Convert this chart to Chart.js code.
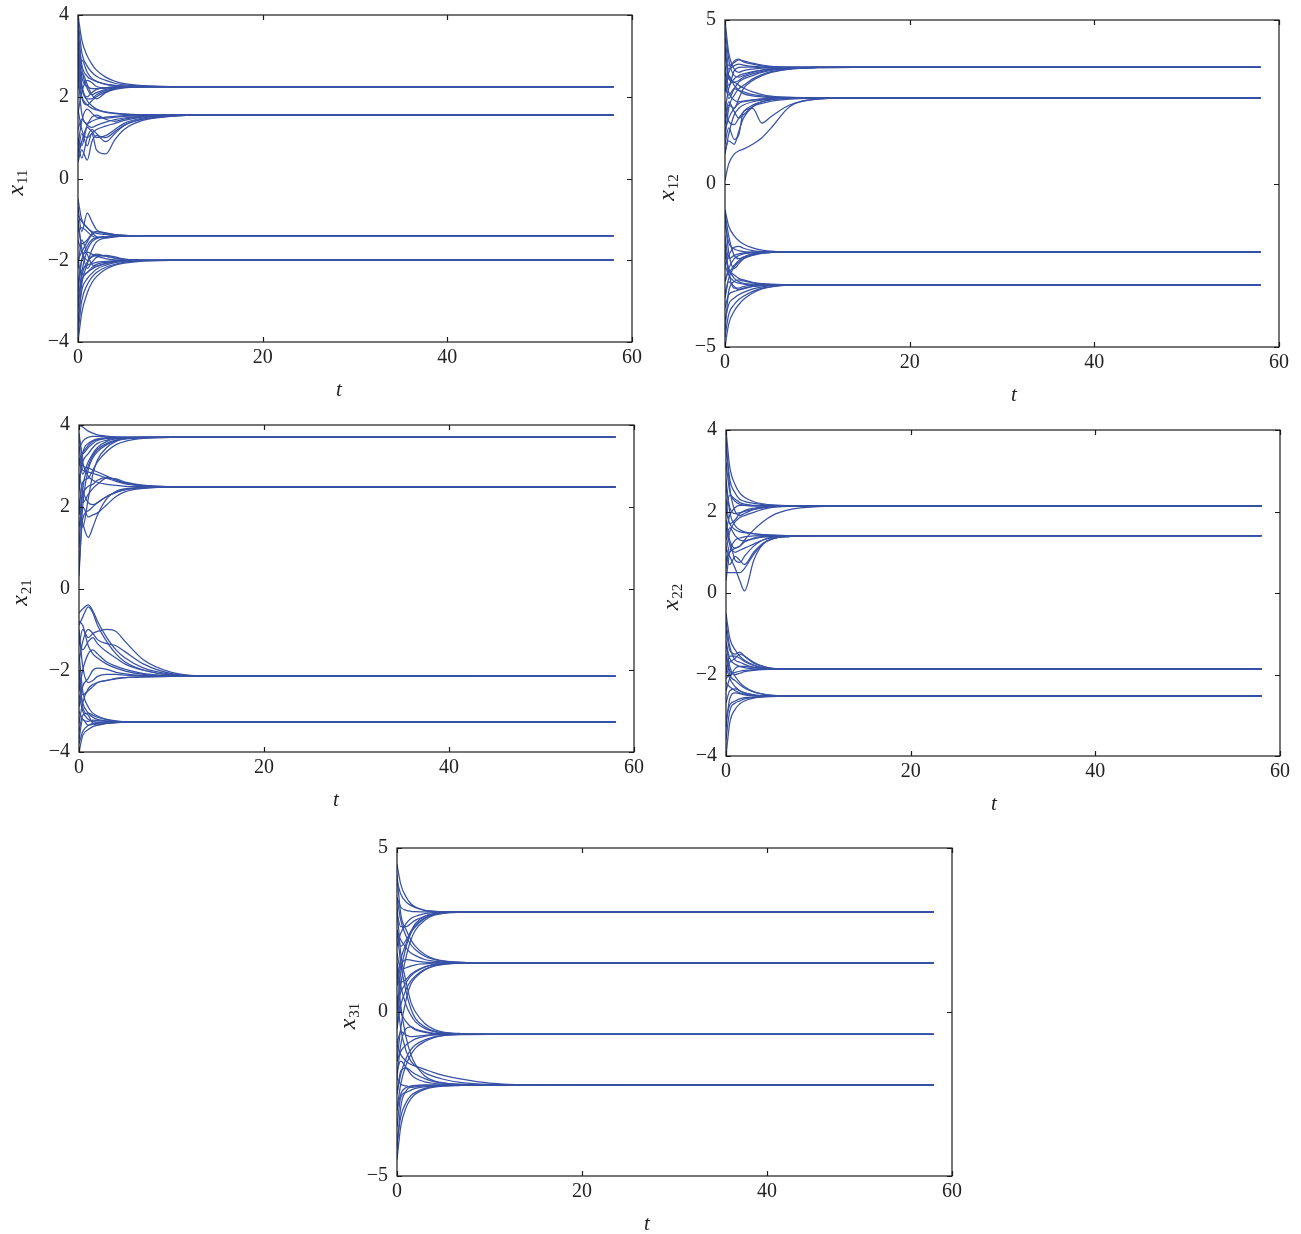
<!DOCTYPE html>
<html>
<head>
<meta charset="utf-8">
<script src="https://cdn.jsdelivr.net/npm/chart.js@4.4.1/dist/chart.umd.min.js"></script>
<style>
  html, body { margin: 0; padding: 0; background: #fff; }
  body { position: relative; width: 1301px; height: 1234px; overflow: hidden; }
  canvas { position: absolute; }
</style>
</head>
<body>
<canvas id="c11"></canvas>
<canvas id="c12"></canvas>
<canvas id="c21"></canvas>
<canvas id="c22"></canvas>
<canvas id="c31"></canvas>
<script>
// sample times shared by every trajectory
const times = [0, 0.4, 1, 1.5, 2, 3, 4, 5, 7, 10, 14, 58];
const xTicks = [0, 20, 40, 60];

const x11Curves = [
    [4.0, 3.4, 3.0, 2.8, 2.65, 2.48, 2.38, 2.32, 2.27, 2.25, 2.25, 2.25],
    [3.9, 3.1, 2.75, 2.6, 2.5, 2.4, 2.33, 2.29, 2.26, 2.25, 2.25, 2.25],
    [3.6, 2.8, 2.5, 2.42, 2.37, 2.31, 2.28, 2.26, 2.25, 2.25, 2.25, 2.25],
    [3.3, 2.5, 2.25, 2.2, 2.2, 2.22, 2.24, 2.25, 2.25, 2.25, 2.25, 2.25],
    [2.8, 2.2, 1.95, 1.95, 2.05, 2.15, 2.2, 2.23, 2.25, 2.25, 2.25, 2.25],
    [2.2, 2.6, 2.3, 2.05, 1.95, 2.1, 2.18, 2.22, 2.24, 2.25, 2.25, 2.25],
    [1.6, 2.1, 2.4, 2.35, 2.25, 2.22, 2.23, 2.24, 2.25, 2.25, 2.25, 2.25],
    [3.0, 2.0, 1.8, 1.9, 2.0, 2.12, 2.2, 2.23, 2.25, 2.25, 2.25, 2.25],
    [2.5, 2.9, 2.6, 2.45, 2.38, 2.3, 2.27, 2.26, 2.25, 2.25, 2.25, 2.25],
    [3.7, 2.7, 2.2, 2.05, 2.1, 2.18, 2.22, 2.24, 2.25, 2.25, 2.25, 2.25],
    [3.4, 2.3, 2.0, 2.1, 2.18, 2.22, 2.24, 2.25, 2.25, 2.25, 2.25, 2.25],
    [0.4, 0.7, 0.45, 0.9, 1.05, 1.0, 1.15, 1.3, 1.45, 1.53, 1.55, 1.55],
    [0.6, 1.1, 0.8, 1.1, 0.7, 0.6, 0.95, 1.2, 1.42, 1.52, 1.55, 1.55],
    [0.9, 0.5, 1.0, 1.2, 1.1, 0.9, 1.1, 1.3, 1.45, 1.53, 1.55, 1.55],
    [1.2, 1.45, 1.3, 1.25, 1.3, 1.38, 1.44, 1.48, 1.52, 1.55, 1.55, 1.55],
    [2.4, 2.0, 1.8, 1.72, 1.68, 1.62, 1.59, 1.57, 1.56, 1.55, 1.55, 1.55],
    [3.1, 2.3, 1.9, 1.78, 1.7, 1.63, 1.6, 1.58, 1.56, 1.55, 1.55, 1.55],
    [1.7, 1.2, 1.0, 1.1, 1.2, 1.28, 1.35, 1.42, 1.5, 1.54, 1.55, 1.55],
    [2.6, 1.6, 1.35, 1.4, 1.45, 1.5, 1.52, 1.54, 1.55, 1.55, 1.55, 1.55],
    [0.8, 1.4, 1.7, 1.6, 1.5, 1.48, 1.5, 1.52, 1.54, 1.55, 1.55, 1.55],
    [1.0, 0.8, 1.25, 1.15, 1.0, 1.05, 1.2, 1.35, 1.48, 1.54, 1.55, 1.55],
    [0.5, 0.9, 1.3, 1.5, 1.55, 1.45, 1.4, 1.45, 1.52, 1.55, 1.55, 1.55],
    [-0.5, -1.0, -1.2, -1.3, -1.34, -1.37, -1.39, -1.4, -1.4, -1.4, -1.4, -1.4],
    [-0.7, -1.3, -0.85, -1.05, -1.25, -1.35, -1.38, -1.39, -1.4, -1.4, -1.4, -1.4],
    [-1.0, -1.6, -1.5, -1.35, -1.3, -1.34, -1.37, -1.39, -1.4, -1.4, -1.4, -1.4],
    [-2.0, -1.8, -1.55, -1.38, -1.3, -1.33, -1.37, -1.39, -1.4, -1.4, -1.4, -1.4],
    [-2.6, -2.0, -1.65, -1.5, -1.45, -1.42, -1.41, -1.4, -1.4, -1.4, -1.4, -1.4],
    [-1.3, -1.2, -1.3, -1.4, -1.44, -1.43, -1.41, -1.4, -1.4, -1.4, -1.4, -1.4],
    [-3.1, -2.3, -1.75, -1.55, -1.47, -1.42, -1.41, -1.4, -1.4, -1.4, -1.4, -1.4],
    [-0.9, -1.05, -1.2, -1.32, -1.42, -1.46, -1.43, -1.41, -1.4, -1.4, -1.4, -1.4],
    [-3.6, -2.6, -2.1, -1.75, -1.55, -1.45, -1.42, -1.41, -1.4, -1.4, -1.4, -1.4],
    [-4.0, -3.3, -2.8, -2.55, -2.4, -2.22, -2.12, -2.07, -2.02, -2.0, -2.0, -2.0],
    [-3.8, -3.0, -2.6, -2.42, -2.3, -2.17, -2.1, -2.05, -2.01, -2.0, -2.0, -2.0],
    [-3.5, -2.75, -2.45, -2.32, -2.22, -2.12, -2.06, -2.03, -2.0, -2.0, -2.0, -2.0],
    [-3.0, -2.5, -2.3, -2.22, -2.15, -2.08, -2.04, -2.02, -2.0, -2.0, -2.0, -2.0],
    [-2.5, -2.25, -2.12, -2.08, -2.05, -2.03, -2.01, -2.0, -2.0, -2.0, -2.0, -2.0],
    [-1.5, -1.8, -2.0, -1.92, -1.88, -1.9, -1.95, -1.98, -2.0, -2.0, -2.0, -2.0],
    [-1.1, -1.7, -2.2, -2.05, -1.93, -1.88, -1.92, -1.97, -2.0, -2.0, -2.0, -2.0],
    [-2.0, -2.35, -2.3, -2.18, -2.1, -2.05, -2.02, -2.0, -2.0, -2.0, -2.0, -2.0],
    [-3.2, -2.4, -2.05, -1.9, -1.85, -1.9, -1.95, -1.98, -2.0, -2.0, -2.0, -2.0],
    [-2.8, -2.0, -1.8, -1.85, -1.9, -1.96, -1.99, -2.0, -2.0, -2.0, -2.0, -2.0],
    [-2.2, -1.5, -1.85, -2.1, -2.15, -2.08, -2.03, -2.01, -2.0, -2.0, -2.0, -2.0],
];

const x12Curves = [
    [5.0, 4.0, 3.5, 3.4, 3.45, 3.5, 3.53, 3.54, 3.55, 3.55, 3.55, 3.55],
    [4.5, 3.6, 3.7, 3.78, 3.75, 3.68, 3.62, 3.58, 3.56, 3.55, 3.55, 3.55],
    [3.9, 3.5, 3.75, 3.8, 3.72, 3.65, 3.6, 3.57, 3.55, 3.55, 3.55, 3.55],
    [2.8, 3.4, 3.6, 3.65, 3.62, 3.58, 3.56, 3.55, 3.55, 3.55, 3.55, 3.55],
    [2.2, 2.9, 3.2, 3.3, 3.35, 3.42, 3.47, 3.5, 3.53, 3.55, 3.55, 3.55],
    [1.4, 2.3, 2.7, 2.9, 3.0, 3.2, 3.33, 3.42, 3.5, 3.54, 3.55, 3.55],
    [3.2, 2.6, 2.9, 3.1, 3.2, 3.3, 3.4, 3.46, 3.52, 3.55, 3.55, 3.55],
    [4.2, 3.3, 3.1, 3.15, 3.25, 3.35, 3.43, 3.48, 3.53, 3.55, 3.55, 3.55],
    [1.8, 2.4, 2.3, 2.6, 2.9, 3.15, 3.3, 3.4, 3.5, 3.54, 3.55, 3.55],
    [3.6, 3.0, 3.45, 3.55, 3.56, 3.56, 3.55, 3.55, 3.55, 3.55, 3.55, 3.55],
    [4.8, 3.8, 3.3, 3.25, 3.3, 3.4, 3.47, 3.51, 3.54, 3.55, 3.55, 3.55],
    [0.1, 0.6, 0.9, 1.0, 1.05, 1.2, 1.4, 1.7, 2.35, 2.58, 2.62, 2.62],
    [1.2, 1.7, 1.35, 1.5, 2.2, 2.3, 1.85, 2.05, 2.4, 2.58, 2.62, 2.62],
    [2.0, 2.5, 2.2, 2.0, 2.1, 2.35, 2.45, 2.52, 2.58, 2.61, 2.62, 2.62],
    [3.0, 2.7, 2.9, 2.85, 2.8, 2.72, 2.68, 2.65, 2.63, 2.62, 2.62, 2.62],
    [4.0, 3.2, 3.1, 3.0, 2.92, 2.8, 2.72, 2.67, 2.63, 2.62, 2.62, 2.62],
    [1.6, 2.0, 2.3, 2.45, 2.5, 2.55, 2.58, 2.6, 2.62, 2.62, 2.62, 2.62],
    [2.5, 1.9, 1.8, 2.0, 2.2, 2.4, 2.5, 2.56, 2.6, 2.62, 2.62, 2.62],
    [3.4, 2.8, 2.55, 2.5, 2.52, 2.56, 2.59, 2.61, 2.62, 2.62, 2.62, 2.62],
    [0.9, 1.5, 2.1, 2.3, 2.4, 2.5, 2.55, 2.59, 2.61, 2.62, 2.62, 2.62],
    [2.8, 3.3, 3.0, 2.85, 2.75, 2.68, 2.65, 2.63, 2.62, 2.62, 2.62, 2.62],
    [1.0, 1.3, 1.2, 1.6, 2.0, 2.35, 2.5, 2.57, 2.61, 2.62, 2.62, 2.62],
    [-0.8, -1.3, -1.6, -1.75, -1.85, -1.97, -2.04, -2.07, -2.1, -2.1, -2.1, -2.1],
    [-1.2, -1.8, -2.0, -2.05, -2.08, -2.1, -2.1, -2.1, -2.1, -2.1, -2.1, -2.1],
    [-1.6, -2.3, -2.2, -2.15, -2.12, -2.1, -2.1, -2.1, -2.1, -2.1, -2.1, -2.1],
    [-2.5, -2.2, -1.95, -1.92, -1.98, -2.05, -2.08, -2.1, -2.1, -2.1, -2.1, -2.1],
    [-3.0, -2.6, -2.3, -2.2, -2.15, -2.12, -2.1, -2.1, -2.1, -2.1, -2.1, -2.1],
    [-2.0, -2.7, -2.5, -2.35, -2.25, -2.15, -2.12, -2.11, -2.1, -2.1, -2.1, -2.1],
    [-3.4, -2.9, -2.55, -2.4, -2.3, -2.2, -2.14, -2.11, -2.1, -2.1, -2.1, -2.1],
    [-1.0, -2.1, -2.6, -2.45, -2.3, -2.18, -2.13, -2.11, -2.1, -2.1, -2.1, -2.1],
    [-0.9, -1.6, -2.2, -2.3, -2.25, -2.16, -2.12, -2.11, -2.1, -2.1, -2.1, -2.1],
    [-5.0, -4.3, -3.9, -3.7, -3.55, -3.35, -3.22, -3.16, -3.11, -3.1, -3.1, -3.1],
    [-4.7, -4.0, -3.7, -3.55, -3.45, -3.3, -3.2, -3.15, -3.11, -3.1, -3.1, -3.1],
    [-4.2, -3.7, -3.5, -3.4, -3.33, -3.22, -3.16, -3.12, -3.1, -3.1, -3.1, -3.1],
    [-3.8, -3.4, -3.3, -3.25, -3.2, -3.15, -3.12, -3.1, -3.1, -3.1, -3.1, -3.1],
    [-2.5, -2.8, -3.0, -3.05, -3.08, -3.1, -3.1, -3.1, -3.1, -3.1, -3.1, -3.1],
    [-2.2, -2.6, -2.9, -3.0, -3.05, -3.08, -3.09, -3.1, -3.1, -3.1, -3.1, -3.1],
    [-1.8, -2.7, -3.2, -3.2, -3.15, -3.12, -3.1, -3.1, -3.1, -3.1, -3.1, -3.1],
    [-3.0, -2.7, -2.8, -2.9, -2.95, -3.02, -3.06, -3.08, -3.1, -3.1, -3.1, -3.1],
    [-4.5, -3.3, -3.0, -2.95, -2.98, -3.04, -3.07, -3.09, -3.1, -3.1, -3.1, -3.1],
    [-3.5, -3.0, -3.15, -3.25, -3.22, -3.15, -3.12, -3.1, -3.1, -3.1, -3.1, -3.1],
];

const x21Curves = [
    [4.0, 3.95, 3.85, 3.8, 3.76, 3.73, 3.71, 3.7, 3.7, 3.7, 3.7, 3.7],
    [3.4, 3.6, 3.7, 3.72, 3.72, 3.71, 3.7, 3.7, 3.7, 3.7, 3.7, 3.7],
    [3.0, 3.3, 3.5, 3.6, 3.64, 3.68, 3.69, 3.7, 3.7, 3.7, 3.7, 3.7],
    [2.6, 3.1, 3.3, 3.45, 3.55, 3.63, 3.67, 3.69, 3.7, 3.7, 3.7, 3.7],
    [0.3, 2.0, 2.9, 3.2, 3.35, 3.52, 3.62, 3.66, 3.69, 3.7, 3.7, 3.7],
    [1.9, 2.6, 2.7, 2.9, 3.1, 3.35, 3.52, 3.6, 3.67, 3.7, 3.7, 3.7],
    [3.2, 2.8, 3.1, 3.3, 3.45, 3.6, 3.66, 3.68, 3.7, 3.7, 3.7, 3.7],
    [2.2, 1.5, 2.2, 2.8, 3.15, 3.45, 3.6, 3.66, 3.69, 3.7, 3.7, 3.7],
    [3.7, 3.3, 3.45, 3.55, 3.62, 3.67, 3.69, 3.7, 3.7, 3.7, 3.7, 3.7],
    [1.0, 2.4, 3.0, 3.25, 3.4, 3.55, 3.63, 3.67, 3.7, 3.7, 3.7, 3.7],
    [2.4, 3.3, 3.55, 3.62, 3.66, 3.69, 3.7, 3.7, 3.7, 3.7, 3.7, 3.7],
    [2.0, 1.6, 1.25, 1.5, 1.8, 2.2, 2.38, 2.44, 2.47, 2.48, 2.48, 2.48],
    [1.5, 2.0, 1.75, 1.8, 1.85, 2.05, 2.25, 2.37, 2.45, 2.48, 2.48, 2.48],
    [3.2, 3.0, 2.95, 2.9, 2.85, 2.75, 2.65, 2.58, 2.52, 2.49, 2.48, 2.48],
    [3.5, 2.9, 2.85, 2.82, 2.78, 2.7, 2.62, 2.56, 2.51, 2.49, 2.48, 2.48],
    [2.6, 2.1, 2.3, 2.45, 2.55, 2.7, 2.68, 2.6, 2.52, 2.49, 2.48, 2.48],
    [1.8, 2.3, 2.5, 2.55, 2.65, 2.72, 2.66, 2.58, 2.51, 2.48, 2.48, 2.48],
    [0.5, 1.7, 1.9, 2.0, 2.1, 2.25, 2.35, 2.42, 2.47, 2.48, 2.48, 2.48],
    [2.8, 2.4, 2.1, 2.05, 2.1, 2.25, 2.35, 2.42, 2.46, 2.48, 2.48, 2.48],
    [3.8, 3.1, 2.75, 2.65, 2.6, 2.55, 2.52, 2.5, 2.49, 2.48, 2.48, 2.48],
    [-0.6, -0.5, -0.4, -0.55, -0.8, -1.2, -1.5, -1.7, -1.95, -2.1, -2.15, -2.15],
    [-0.9, -0.7, -0.45, -0.6, -0.9, -1.3, -1.6, -1.8, -2.0, -2.12, -2.15, -2.15],
    [-1.4, -1.0, -1.2, -1.1, -1.05, -1.0, -1.05, -1.3, -1.75, -2.05, -2.14, -2.15],
    [-1.8, -1.3, -1.0, -1.1, -1.25, -1.35, -1.4, -1.55, -1.85, -2.08, -2.14, -2.15],
    [-1.2, -1.5, -1.3, -1.2, -1.35, -1.55, -1.7, -1.85, -2.0, -2.12, -2.15, -2.15],
    [-2.5, -2.0, -1.6, -1.5, -1.6, -1.8, -1.9, -1.98, -2.08, -2.13, -2.15, -2.15],
    [-2.9, -2.4, -2.2, -2.0, -1.95, -1.98, -2.05, -2.09, -2.13, -2.15, -2.15, -2.15],
    [-3.3, -2.8, -2.45, -2.35, -2.3, -2.25, -2.21, -2.18, -2.16, -2.15, -2.15, -2.15],
    [-2.0, -2.6, -2.5, -2.4, -2.3, -2.25, -2.2, -2.18, -2.16, -2.15, -2.15, -2.15],
    [-1.0, -1.9, -2.3, -2.25, -2.15, -2.1, -2.1, -2.12, -2.14, -2.15, -2.15, -2.15],
    [-0.8, -0.9, -1.4, -1.6, -1.7, -1.85, -1.95, -2.02, -2.1, -2.14, -2.15, -2.15],
    [-4.0, -3.6, -3.45, -3.38, -3.34, -3.3, -3.28, -3.27, -3.27, -3.27, -3.27, -3.27],
    [-3.8, -3.5, -3.35, -3.3, -3.29, -3.28, -3.27, -3.27, -3.27, -3.27, -3.27, -3.27],
    [-2.6, -3.0, -3.2, -3.25, -3.27, -3.27, -3.27, -3.27, -3.27, -3.27, -3.27, -3.27],
    [-2.3, -2.8, -3.05, -3.15, -3.2, -3.24, -3.26, -3.27, -3.27, -3.27, -3.27, -3.27],
    [-3.0, -3.2, -3.25, -3.22, -3.23, -3.25, -3.26, -3.27, -3.27, -3.27, -3.27, -3.27],
    [-1.6, -2.5, -2.9, -3.05, -3.12, -3.2, -3.24, -3.26, -3.27, -3.27, -3.27, -3.27],
    [-3.5, -3.1, -3.05, -3.1, -3.15, -3.21, -3.25, -3.26, -3.27, -3.27, -3.27, -3.27],
    [-2.0, -2.9, -3.1, -3.3, -3.34, -3.3, -3.28, -3.27, -3.27, -3.27, -3.27, -3.27],
    [-3.7, -3.2, -3.35, -3.32, -3.3, -3.28, -3.27, -3.27, -3.27, -3.27, -3.27, -3.27],
];

const x22Curves = [
    [4.0, 3.1, 2.65, 2.45, 2.35, 2.24, 2.19, 2.16, 2.14, 2.14, 2.14, 2.14],
    [3.6, 2.8, 2.45, 2.3, 2.25, 2.2, 2.17, 2.15, 2.14, 2.14, 2.14, 2.14],
    [3.2, 2.5, 2.25, 2.18, 2.15, 2.14, 2.14, 2.14, 2.14, 2.14, 2.14, 2.14],
    [2.6, 2.1, 1.95, 1.97, 2.0, 2.05, 2.09, 2.12, 2.14, 2.14, 2.14, 2.14],
    [1.5, 1.9, 2.1, 2.15, 2.15, 2.14, 2.14, 2.14, 2.14, 2.14, 2.14, 2.14],
    [1.0, 1.5, 1.75, 1.85, 1.9, 1.98, 2.05, 2.1, 2.13, 2.14, 2.14, 2.14],
    [0.8, 1.0, 1.1, 1.15, 1.3, 1.55, 1.75, 1.9, 2.05, 2.12, 2.14, 2.14],
    [2.3, 1.7, 1.8, 1.95, 2.02, 2.08, 2.11, 2.13, 2.14, 2.14, 2.14, 2.14],
    [2.0, 2.4, 2.3, 2.22, 2.18, 2.15, 2.14, 2.14, 2.14, 2.14, 2.14, 2.14],
    [3.8, 2.6, 2.0, 1.9, 1.95, 2.05, 2.1, 2.12, 2.14, 2.14, 2.14, 2.14],
    [1.1, 0.9, 0.6, 0.3, 0.05, 0.8, 1.2, 1.33, 1.39, 1.41, 1.41, 1.41],
    [0.5, 0.5, 0.5, 0.5, 0.6, 0.95, 1.2, 1.33, 1.39, 1.41, 1.41, 1.41],
    [0.9, 0.7, 0.9, 0.8, 0.7, 1.0, 1.22, 1.33, 1.39, 1.41, 1.41, 1.41],
    [1.6, 1.2, 1.0, 1.05, 1.1, 1.2, 1.3, 1.36, 1.4, 1.41, 1.41, 1.41],
    [2.0, 1.7, 1.55, 1.5, 1.48, 1.45, 1.43, 1.42, 1.41, 1.41, 1.41, 1.41],
    [2.8, 2.0, 1.65, 1.55, 1.5, 1.46, 1.43, 1.42, 1.41, 1.41, 1.41, 1.41],
    [1.3, 1.6, 1.4, 1.3, 1.28, 1.33, 1.37, 1.39, 1.41, 1.41, 1.41, 1.41],
    [0.3, 1.0, 1.3, 1.35, 1.38, 1.4, 1.41, 1.41, 1.41, 1.41, 1.41, 1.41],
    [1.8, 1.3, 1.1, 1.15, 1.25, 1.35, 1.39, 1.4, 1.41, 1.41, 1.41, 1.41],
    [0.6, 1.2, 0.8, 0.75, 0.9, 1.15, 1.3, 1.37, 1.4, 1.41, 1.41, 1.41],
    [-0.5, -1.1, -1.4, -1.55, -1.65, -1.77, -1.83, -1.86, -1.87, -1.87, -1.87, -1.87],
    [-0.9, -1.4, -1.5, -1.45, -1.55, -1.72, -1.8, -1.85, -1.87, -1.87, -1.87, -1.87],
    [-1.2, -1.6, -1.75, -1.8, -1.83, -1.86, -1.87, -1.87, -1.87, -1.87, -1.87, -1.87],
    [-1.8, -1.7, -1.6, -1.5, -1.55, -1.7, -1.8, -1.85, -1.87, -1.87, -1.87, -1.87],
    [-2.1, -2.0, -1.95, -1.92, -1.9, -1.88, -1.87, -1.87, -1.87, -1.87, -1.87, -1.87],
    [-2.4, -2.1, -1.85, -1.8, -1.8, -1.83, -1.85, -1.86, -1.87, -1.87, -1.87, -1.87],
    [-1.5, -1.9, -2.0, -1.97, -1.93, -1.9, -1.88, -1.87, -1.87, -1.87, -1.87, -1.87],
    [-2.0, -1.55, -1.55, -1.6, -1.68, -1.78, -1.84, -1.86, -1.87, -1.87, -1.87, -1.87],
    [-0.7, -1.3, -1.65, -1.7, -1.75, -1.82, -1.85, -1.86, -1.87, -1.87, -1.87, -1.87],
    [-4.0, -3.2, -2.85, -2.72, -2.65, -2.58, -2.55, -2.54, -2.53, -2.53, -2.53, -2.53],
    [-3.6, -2.9, -2.7, -2.65, -2.6, -2.56, -2.54, -2.53, -2.53, -2.53, -2.53, -2.53],
    [-3.1, -2.75, -2.65, -2.6, -2.57, -2.55, -2.54, -2.53, -2.53, -2.53, -2.53, -2.53],
    [-2.2, -2.3, -2.4, -2.45, -2.48, -2.51, -2.52, -2.53, -2.53, -2.53, -2.53, -2.53],
    [-1.8, -2.1, -2.3, -2.4, -2.45, -2.5, -2.52, -2.53, -2.53, -2.53, -2.53, -2.53],
    [-1.5, -2.0, -2.15, -2.25, -2.33, -2.43, -2.48, -2.51, -2.53, -2.53, -2.53, -2.53],
    [-2.7, -2.4, -2.35, -2.4, -2.45, -2.5, -2.52, -2.53, -2.53, -2.53, -2.53, -2.53],
    [-1.2, -1.8, -2.05, -2.2, -2.3, -2.42, -2.48, -2.51, -2.53, -2.53, -2.53, -2.53],
    [-3.3, -2.6, -2.45, -2.47, -2.5, -2.52, -2.53, -2.53, -2.53, -2.53, -2.53, -2.53],
];

const x31Curves = [
    [4.5, 3.9, 3.5, 3.3, 3.2, 3.1, 3.07, 3.06, 3.05, 3.05, 3.05, 3.05],
    [4.0, 3.6, 3.35, 3.25, 3.18, 3.1, 3.07, 3.05, 3.05, 3.05, 3.05, 3.05],
    [2.0, 2.4, 2.7, 2.85, 2.92, 3.0, 3.03, 3.04, 3.05, 3.05, 3.05, 3.05],
    [1.0, 1.6, 2.1, 2.45, 2.7, 2.92, 3.0, 3.03, 3.05, 3.05, 3.05, 3.05],
    [0.0, 1.2, 2.0, 2.4, 2.6, 2.85, 2.97, 3.02, 3.05, 3.05, 3.05, 3.05],
    [3.0, 2.6, 2.6, 2.7, 2.8, 2.92, 2.99, 3.02, 3.05, 3.05, 3.05, 3.05],
    [-0.5, 0.8, 1.7, 2.2, 2.5, 2.8, 2.95, 3.01, 3.04, 3.05, 3.05, 3.05],
    [2.5, 2.0, 2.2, 2.45, 2.65, 2.87, 2.97, 3.02, 3.05, 3.05, 3.05, 3.05],
    [3.5, 3.2, 3.1, 3.07, 3.06, 3.05, 3.05, 3.05, 3.05, 3.05, 3.05, 3.05],
    [3.5, 2.8, 2.3, 2.05, 1.9, 1.7, 1.6, 1.55, 1.51, 1.5, 1.5, 1.5],
    [4.2, 3.0, 2.5, 2.2, 2.0, 1.75, 1.62, 1.56, 1.51, 1.5, 1.5, 1.5],
    [2.5, 2.2, 1.95, 1.8, 1.72, 1.6, 1.55, 1.52, 1.5, 1.5, 1.5, 1.5],
    [0.2, 0.6, 0.9, 1.1, 1.22, 1.37, 1.44, 1.47, 1.5, 1.5, 1.5, 1.5],
    [-0.5, 0.2, 0.7, 0.95, 1.1, 1.3, 1.41, 1.46, 1.49, 1.5, 1.5, 1.5],
    [1.2, 0.9, 1.0, 1.15, 1.25, 1.38, 1.45, 1.48, 1.5, 1.5, 1.5, 1.5],
    [-1.5, -0.5, 0.4, 0.85, 1.05, 1.28, 1.4, 1.45, 1.49, 1.5, 1.5, 1.5],
    [1.8, 1.3, 1.35, 1.4, 1.44, 1.47, 1.49, 1.5, 1.5, 1.5, 1.5, 1.5],
    [0.8, 1.4, 1.6, 1.58, 1.55, 1.52, 1.51, 1.5, 1.5, 1.5, 1.5, 1.5],
    [2.5, 1.5, 0.6, 0.1, -0.2, -0.45, -0.58, -0.63, -0.67, -0.68, -0.68, -0.68],
    [1.5, 0.8, 0.2, -0.1, -0.3, -0.5, -0.6, -0.65, -0.68, -0.68, -0.68, -0.68],
    [0.5, 0.0, -0.3, -0.45, -0.55, -0.62, -0.66, -0.67, -0.68, -0.68, -0.68, -0.68],
    [-1.5, -1.2, -1.0, -0.9, -0.82, -0.74, -0.7, -0.69, -0.68, -0.68, -0.68, -0.68],
    [-2.5, -1.9, -1.4, -1.15, -1.0, -0.85, -0.76, -0.71, -0.68, -0.68, -0.68, -0.68],
    [-1.0, -0.6, -0.7, -0.75, -0.74, -0.71, -0.69, -0.68, -0.68, -0.68, -0.68, -0.68],
    [3.2, 1.8, 0.9, 0.3, 0.0, -0.35, -0.53, -0.61, -0.66, -0.68, -0.68, -0.68],
    [-3.0, -2.2, -1.6, -1.3, -1.1, -0.9, -0.78, -0.72, -0.69, -0.68, -0.68, -0.68],
    [-2.0, -1.0, -0.5, -0.45, -0.52, -0.6, -0.65, -0.67, -0.68, -0.68, -0.68, -0.68],
    [-4.5, -3.5, -2.9, -2.65, -2.5, -2.36, -2.29, -2.26, -2.24, -2.23, -2.23, -2.23],
    [-4.0, -3.2, -2.75, -2.55, -2.45, -2.33, -2.27, -2.25, -2.23, -2.23, -2.23, -2.23],
    [-3.5, -2.6, -2.45, -2.38, -2.33, -2.28, -2.25, -2.24, -2.23, -2.23, -2.23, -2.23],
    [-3.0, -2.5, -2.3, -2.26, -2.24, -2.23, -2.23, -2.23, -2.23, -2.23, -2.23, -2.23],
    [0.5, -0.5, -1.2, -1.5, -1.65, -1.85, -1.97, -2.05, -2.15, -2.21, -2.23, -2.23],
    [-1.0, -1.3, -1.5, -1.6, -1.65, -1.75, -1.85, -1.93, -2.05, -2.17, -2.22, -2.23],
    [1.5, 0.2, -0.8, -1.3, -1.6, -1.95, -2.1, -2.16, -2.21, -2.23, -2.23, -2.23],
    [-2.0, -2.2, -2.25, -2.3, -2.28, -2.25, -2.24, -2.23, -2.23, -2.23, -2.23, -2.23],
    [-2.5, -1.8, -1.7, -1.8, -1.9, -2.03, -2.12, -2.17, -2.21, -2.23, -2.23, -2.23],
    [-1.8, -1.5, -1.7, -1.9, -2.02, -2.13, -2.18, -2.2, -2.22, -2.23, -2.23, -2.23],
    [-4.2, -2.9, -2.4, -2.28, -2.25, -2.23, -2.23, -2.23, -2.23, -2.23, -2.23, -2.23],
];

const LINE_BLUE = '#3651a5';
const SERIF = "'Liberation Serif', 'Times New Roman', 'DejaVu Serif', serif";

const panels = [
    { id: 'c11', curves: x11Curves, sub: '11', yMax: 4, yStep: 2, box: [78, 14, 632, 342], labelGap: 61, tX: 339 },
    { id: 'c12', curves: x12Curves, sub: '12', yMax: 5, yStep: 5, box: [725, 19, 1279, 347], labelGap: 57, tX: 1014 },
    { id: 'c21', curves: x21Curves, sub: '21', yMax: 4, yStep: 2, box: [79, 424, 634, 752], labelGap: 58, tX: 336 },
    { id: 'c22', curves: x22Curves, sub: '22', yMax: 4, yStep: 2, box: [726, 429, 1280, 756], labelGap: 54, tX: 994 },
    { id: 'c31', curves: x31Curves, sub: '31', yMax: 5, yStep: 5, box: [397, 847, 952, 1176], labelGap: 48, tX: 647 },
];

const LEFT = 80, TOP = 20, RIGHT = 20, BOTTOM = 64;

function fmtTick(v) {
    return v < 0 ? '\u2212' + (-v) : String(v);
}

// box frame, inward ticks on all four sides, the t label and the y label with subscript
const framePlugin = {
    id: 'frame',
    afterDraw(chart, args, opts) {
        const { ctx, chartArea: a, scales: { x, y } } = chart;
        ctx.save();
        ctx.strokeStyle = '#1c1c1c';
        ctx.lineWidth = 1.2;
        ctx.beginPath();
        for (const t of x.ticks) {
            const px = Math.round(x.getPixelForValue(t.value)) + 0.5;
            ctx.moveTo(px, a.bottom); ctx.lineTo(px, a.bottom - 5);
            ctx.moveTo(px, a.top); ctx.lineTo(px, a.top + 5);
        }
        for (const t of y.ticks) {
            const py = Math.round(y.getPixelForValue(t.value)) + 0.5;
            ctx.moveTo(a.left, py); ctx.lineTo(a.left + 5, py);
            ctx.moveTo(a.right, py); ctx.lineTo(a.right - 5, py);
        }
        ctx.stroke();
        ctx.strokeRect(a.left, a.top, a.right - a.left, a.bottom - a.top);

        ctx.fillStyle = '#222';
        ctx.font = 'italic 21px ' + SERIF;
        ctx.textAlign = 'center';
        ctx.textBaseline = 'middle';
        ctx.fillText('t', opts.tX, a.bottom + 48);

        ctx.textAlign = 'left';
        ctx.textBaseline = 'alphabetic';
        ctx.translate(a.left - opts.gap, (a.top + a.bottom) / 2 + 4);
        ctx.rotate(-Math.PI / 2);
        ctx.font = 'italic 24px ' + SERIF;
        const wm = ctx.measureText('x').width;
        ctx.font = '15px ' + SERIF;
        const ws = ctx.measureText(opts.sub).width;
        const x0 = -(wm + ws + 1) / 2;
        ctx.font = 'italic 24px ' + SERIF;
        ctx.fillText('x', x0, 6);
        ctx.font = '15px ' + SERIF;
        ctx.fillText(opts.sub, x0 + wm + 1, 10);
        ctx.restore();
    }
};

for (const p of panels) {
    const [l, t, r, b] = p.box;
    const canvas = document.getElementById(p.id);
    canvas.width = (r - l) + LEFT + RIGHT;
    canvas.height = (b - t) + TOP + BOTTOM;
    canvas.style.left = (l - LEFT) + 'px';
    canvas.style.top = (t - TOP) + 'px';

    const datasets = p.curves.map(c => ({
        data: times.map((tv, i) => ({ x: tv, y: c[i] })),
        borderColor: LINE_BLUE,
        borderWidth: 1.25,
        pointRadius: 0,
        fill: false,
        cubicInterpolationMode: 'monotone',
    }));

    new Chart(canvas.getContext('2d'), {
        type: 'line',
        data: { datasets },
        options: {
            responsive: false,
            animation: false,
            events: [],
            layout: { padding: { left: 0, top: TOP, right: RIGHT, bottom: 0 } },
            plugins: {
                legend: { display: false },
                tooltip: { enabled: false },
                frame: { sub: p.sub, gap: p.labelGap, tX: p.tX - (l - LEFT) },
            },
            scales: {
                x: {
                    type: 'linear',
                    min: 0,
                    max: 60,
                    afterFit: s => { s.height = BOTTOM; },
                    afterBuildTicks: s => { s.ticks = xTicks.map(v => ({ value: v })); },
                    grid: { display: false, drawTicks: false },
                    border: { display: false },
                    ticks: {
                        autoSkip: false,
                        maxRotation: 0,
                        padding: 4,
                        color: '#222',
                        font: { family: SERIF, size: 20 },
                        callback: fmtTick,
                    },
                },
                y: {
                    type: 'linear',
                    min: -p.yMax,
                    max: p.yMax,
                    afterFit: s => { s.width = LEFT; },
                    grid: { display: false, drawTicks: false },
                    border: { display: false },
                    ticks: {
                        stepSize: p.yStep,
                        autoSkip: false,
                        padding: 9,
                        color: '#222',
                        font: { family: SERIF, size: 20 },
                        callback: fmtTick,
                    },
                },
            },
        },
        plugins: [framePlugin],
    });
}
</script>
</body>
</html>
